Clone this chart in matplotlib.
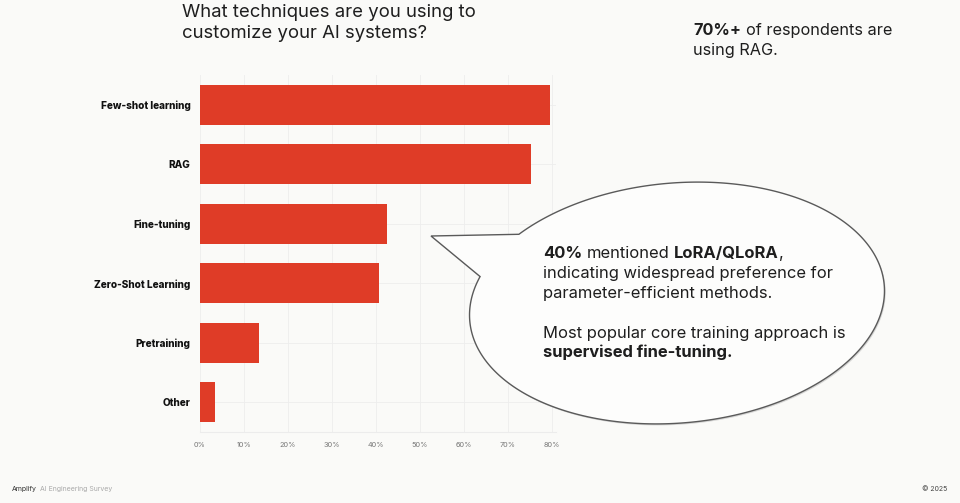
import numpy as np
import matplotlib
matplotlib.use("Agg")
import matplotlib.pyplot as plt
from matplotlib.patches import Polygon

# survey answers, share of respondents (%)
categories = ["Few-shot learning", "RAG", "Fine-tuning", "Zero-Shot Learning", "Pretraining", "Other"]
values = [79.7, 75.4, 42.5, 40.7, 13.5, 3.3]
ticks = [0, 10, 20, 30, 40, 50, 60, 70, 80]
tick_labels = [f"{t}%" for t in ticks]

title_lines = ["What techniques are you using to", "customize your AI systems?"]
side_lines = [[("70%+", True), (" of respondents are", False)],
              [("using RAG.", False)]]
bubble_lines = [[("40%", True), (" mentioned ", False), ("LoRA/QLoRA", True), (",", False)],
                [("indicating widespread preference for", False)],
                [("parameter-efficient methods.", False)],
                [("Most popular core training approach is", False)],
                [("supervised fine-tuning.", True)]]

BG = "#fafaf8"
RED = "#df3c27"
INK = "#1e1e1e"
FONT = ["Inter", "DejaVu Sans"]
W, H = 960, 503

plt.rcParams["font.family"] = FONT

fig = plt.figure(figsize=(W / 100, H / 100), dpi=100, facecolor=BG)
ax = fig.add_axes([200 / W, 1 - 432 / H, 356 / W, 357 / H])
ax.set_facecolor(BG)

y = np.arange(len(categories))
ax.barh(y, values, height=0.67, color=RED, zorder=3)
ax.set_ylim(len(categories) - 0.5, -0.5)
ax.set_xlim(0, 81)
ax.set_xticks(ticks)
ax.set_xticklabels(tick_labels)
ax.set_yticks(y)
ax.set_yticklabels(categories, fontweight="heavy", fontsize=7.2, color="#111111")
ax.tick_params(length=0)
ax.tick_params(axis="x", pad=7, labelsize=5.3, labelcolor="#777777")
ax.tick_params(axis="y", pad=7)
for s in ax.spines.values():
    s.set_visible(False)
ax.spines["bottom"].set_visible(True)
ax.spines["bottom"].set_color("#ececec")
ax.grid(True, color="#ededed", linewidth=0.6, zorder=0)
ax.set_axisbelow(True)

renderer = fig.canvas.get_renderer()


def width_of(txt, size, bold):
    t = fig.text(0, 0, txt, fontsize=size, fontweight="bold" if bold else "normal")
    w = t.get_window_extent(renderer).width
    t.remove()
    return w


def line_width(parts, size):
    sp = width_of("x x", size, False) - width_of("xx", size, False)
    w = 0
    for txt, bold in parts:
        w += width_of(txt.strip(), size, bold)
        w += sp * (len(txt) - len(txt.lstrip())) + sp * (len(txt) - len(txt.rstrip()))
    return w


def fit_size(parts, target):
    return 10 * target / line_width(parts, 10)


def rich_line(x, base, parts, size, color=INK):
    sp = width_of("x x", size, False) - width_of("xx", size, False)
    for txt, bold in parts:
        x += sp * (len(txt) - len(txt.lstrip()))
        core = txt.strip()
        fig.text(x / W, 1 - base / H, core, fontsize=size, color=color,
                 fontweight="bold" if bold else "normal", va="baseline", zorder=10)
        x += width_of(core, size, bold)
        x += sp * (len(txt) - len(txt.rstrip()))


# title
ts = fit_size([(title_lines[0], False)], 295)
for line, base in zip(title_lines, [16.7, 38.4]):
    rich_line(182, base, [(line, False)], ts)

# side note
ss = fit_size(side_lines[0], 199)
for parts, base in zip(side_lines, [35, 55]):
    rich_line(693, base, parts, ss)

# speech bubble (drawn in pixel space, y downwards)
cx, cy, a, b, rot = 677, 303, 208, 120, np.deg2rad(-5)
t = np.linspace(0, 2 * np.pi, 1441)
ex = cx + a * np.cos(t) * np.cos(rot) - b * np.sin(t) * np.sin(rot)
ey = cy + a * np.cos(t) * np.sin(rot) + b * np.sin(t) * np.cos(rot)
i1 = np.argmin((ex - 518) ** 2 + (ey - 233) ** 2)
i2 = np.argmin((ex - 479) ** 2 + (ey - 276) ** 2)
lo, hi = sorted([i1, i2])
bx = np.concatenate([ex[hi:], ex[:lo + 1], [431]])
by = np.concatenate([ey[hi:], ey[:lo + 1], [236]])
shadow = Polygon(np.column_stack([(bx + 1.2) / W, 1 - (by + 1.5) / H]), closed=True,
                 transform=fig.transFigure, facecolor="#bdbdbd", edgecolor="none",
                 alpha=0.6, zorder=7)
bubble = Polygon(np.column_stack([bx / W, 1 - by / H]), closed=True,
                 transform=fig.transFigure, facecolor="#fdfdfc", edgecolor="#5a5a5a",
                 linewidth=1.0, zorder=8)
fig.add_artist(shadow)
fig.add_artist(bubble)

bs = fit_size(bubble_lines[1], 292)
for parts, base in zip(bubble_lines, [258, 278, 298, 338, 357]):
    rich_line(543, base, parts, bs)

# footer
rich_line(12, 491, [("Amplify", False)], 5, color="#333333")
rich_line(40, 491, [("AI Engineering Survey", False)], 5, color="#aaaaaa")
rich_line(922, 491, [("\u00a9 2025", False)], 5, color="#444444")

fig.savefig("out.png", dpi=100, facecolor=BG)
